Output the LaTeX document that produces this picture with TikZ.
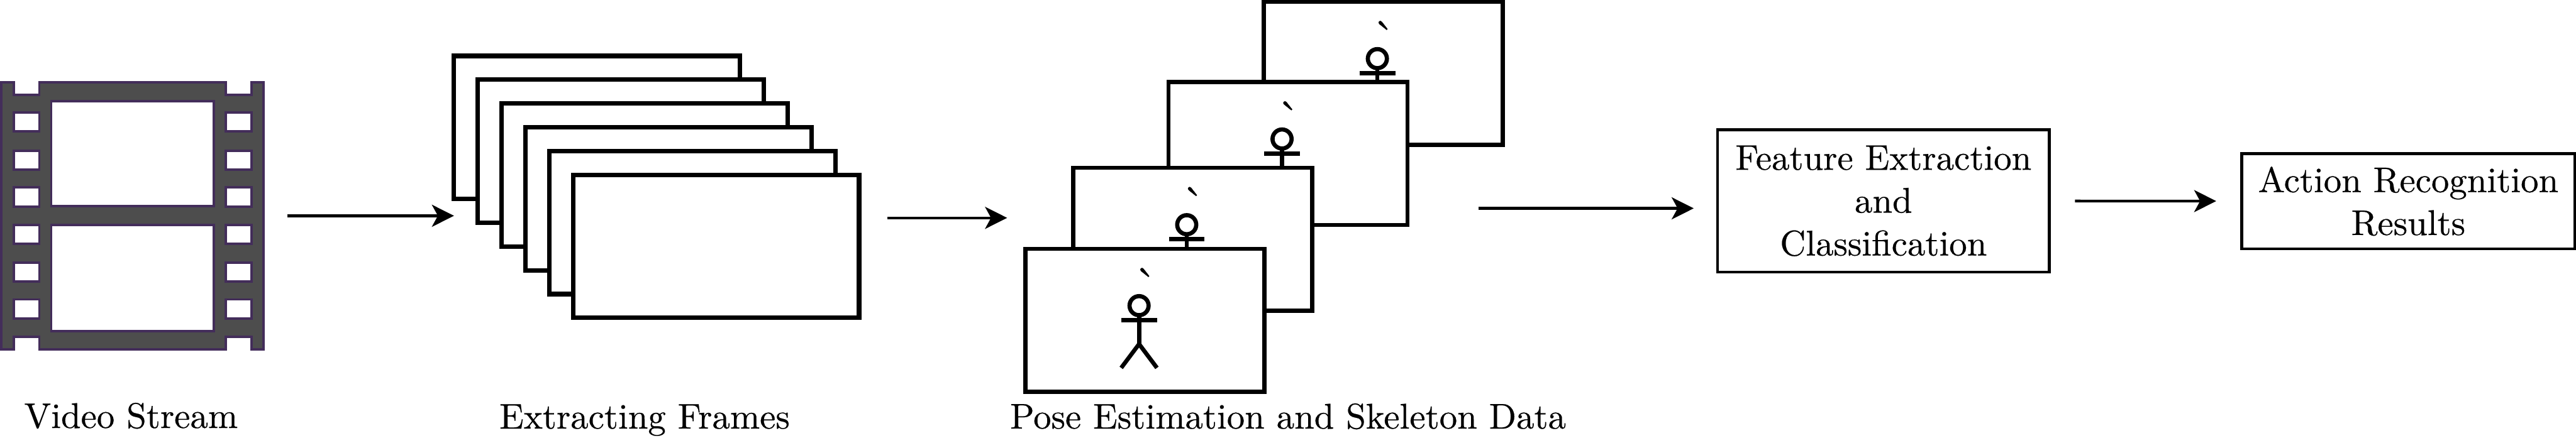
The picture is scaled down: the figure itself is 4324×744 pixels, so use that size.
\documentclass[tikz,border=0pt]{standalone}
\usepackage{amsmath,amssymb}
\usepackage{xcolor}
\usepackage{fontspec}
\setmainfont{lmroman10-regular}[Extension=.otf,FakeBold=0.4]
\usepackage{tikz}
\usetikzlibrary{arrows.meta,calc}
\definecolor{filmgray}{HTML}{4D4D4D}
\definecolor{filmedge}{HTML}{432D5A}
\tikzset{
  every picture/.style = {
    x=1pt,
    y=-1pt,
    font=\fontsize{60}{72}\selectfont
  }
}
\tikzset{
  flow/.style={
    line width=4.5pt,
    -{Stealth[length=37pt,width=37pt,inset=10pt]}
  },
  filmhole/.style={
    draw = filmedge,
    line width=4pt,
    fill = white
  },
  stackframe/.style={
    draw,
    fill = white,
    line width=7.5pt,
    inner sep = 0pt,
    outer sep = 0pt,
    minimum width=480pt,
    minimum height=240pt
  },
  poseframe/.style={
    stackframe,
    line width=7pt,
    minimum width=401pt
  },
  stagebox/.style={
    draw,
    line width=5pt,
    inner sep = 0pt,
    outer sep = 0pt,
    align=center
  },
  caption/.style={
    anchor=base,
    inner sep = 0pt
  }
}
\tikzset{
  skeleton/.pic={
    \node[inner sep=0pt, anchor=base, font=\fontsize{80}{80}\selectfont] (tick) at (2,-32) {\textasciigrave};
    \begin{scope}[line width=7pt]
      \draw (-10,-24.5) circle (16);
      \draw (-10,-8)--(-10,40);
      \draw (-40,0)--(20,0);
      \draw (-40,80)--(-10,40)--(20,80);
    \end{scope}
  }
}

\begin{document}
\begin{tikzpicture}
        \useasboundingbox (0,0) rectangle (4324,744);
        % film strip
        \node[inner sep=0pt, outer sep=0pt, minimum width=444pt, minimum height=453pt] (film) at (222,362.5) {};
        \draw[draw=filmedge, line width=4pt, fill=filmgray] (2,138) -- (23,138) -- (23,159) -- (66,159) -- (66,138)
            -- (379,138) -- (379,159) -- (422,159) -- (422,138) -- (442,138) -- (442,587) -- (422,587) -- (422,566)
            -- (379,566) -- (379,587) -- (66,587) -- (66,566) -- (23,566) -- (23,587) -- (2,587) -- cycle;
        \foreach \x in {23,379}
            \foreach \y in {189,253,315,378,441,503}
                \draw[filmhole] (\x,\y) rectangle +(43,32);
        \draw[filmhole] (86,170) rectangle (359,346.5);
        \draw[filmhole] (86,378) rectangle (359,556);

        \foreach \i in {0,...,5}
            \node[stackframe] (stack\i) at ({1002+40*\i},{214+40*\i}) {};

        \foreach \n/\x/\y in {4/2322/123,3/2162/258,2/2002/402,1/1922/538} {
            \node[poseframe] (pose\n) at (\x,\y) {};
            \pic (skel\n) at (\x,\y) {skeleton};
        }

        \node[stagebox, minimum width=557pt, minimum height=239pt] (feature) at (3161.5,337.5) {Feature Extraction\\and\\Classification};
        \node[stagebox, minimum width=559pt, minimum height=160pt] (action) at (4042.5,338) {Action Recognition\\Results};

        \node[caption] (videolabel) at (220,719) {Video Stream};
        \node[caption] (stacklabel) at (1082,720) {Extracting Frames};
        \node[caption] (poselabel) at (2162,720) {Pose Estimation and Skeleton Data};

        \coordinate (stackout) at (1490,366);
        \coordinate (poseout) at (2482,350);
        \draw[flow, shorten <=38pt] (film.east) -- (film.east -| stack0.west);
        \draw[flow, shorten >=31pt] (stackout) -- (stackout -| pose1.west);
        \draw[flow, shorten >=40pt] (poseout) -- (poseout -| feature.west);
        \draw[flow, shorten <=43pt, shorten >=43pt] (feature) -- (action);
    \end{tikzpicture}
\end{document}
